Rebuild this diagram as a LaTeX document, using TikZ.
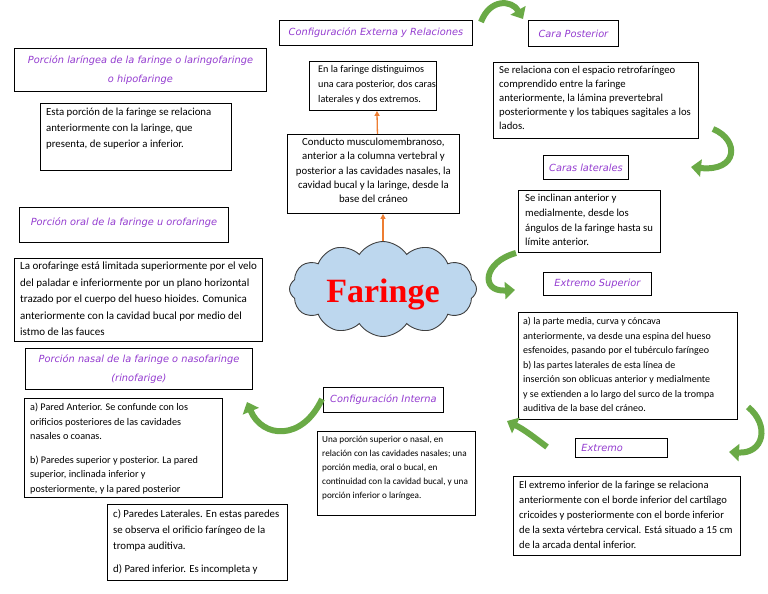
\documentclass[tikz,border=0pt]{standalone}
\usepackage{fontspec}
\setmainfont{Carlito}
\newfontfamily\tfont{DejaVu Sans}
\newfontfamily\bigfont{Liberation Serif}
\usetikzlibrary{shapes.symbols,arrows.meta}
\definecolor{ttl}{RGB}{148,60,208}
\definecolor{gr}{RGB}{106,170,70}
\definecolor{org}{RGB}{237,125,49}
\definecolor{cl}{RGB}{189,215,238}
\tikzset{
 bx/.style={draw=black, line width=0.9pt, inner sep=0pt, anchor=north west},
 tx/.style={inner sep=0pt, anchor=north west, align=left},
 tl/.style={draw=black, line width=0.9pt, anchor=north west, inner sep=0pt, font=\tfont\itshape\fontsize{9.8}{19.5}\selectfont, text=ttl, align=center},
 garr/.style={draw=gr, line width=6pt, -{Triangle[length=10pt,width=17pt]}},
 oarr/.style={draw=org, line width=1.3pt, -{Triangle[length=5pt,width=5pt]}},
}
\newcommand{\fs}[2]{\fontsize{#1}{#2}\selectfont}
\begin{document}
\begin{tikzpicture}[x=1pt,y=-1pt]
\useasboundingbox (0,0) rectangle (768,594);
\fill[white] (0,0) rectangle (768,594);

% left column
\node[tl, minimum width=252pt, minimum height=43pt] (t1) at (14,48) {Porción laríngea de la faringe o laringofaringe\\o hipofaringe};
\node[bx, minimum width=191pt, minimum height=67pt] (b1) at (40,103) {};
\node[tx, font=\fs{10.8}{16}] (b1t) at ([shift={(6,5)}]b1.north west) {Esta porción de la faringe se relaciona\\anteriormente con la laringe, que\\presenta, de superior a inferior.};

\node[tl, minimum width=209pt, minimum height=35pt] (t2) at (19,207) {\raisebox{6pt}{Porción oral de la faringe u orofaringe}};
\node[bx, minimum width=248pt, minimum height=83pt] (b2) at (14,258) {};
\node[tx, font=\fs{11}{16.4}] (b2t) at ([shift={(6,4)}]b2.north west) {La orofaringe está limitada superiormente por el velo\\del paladar e inferiormente por un plano horizontal\\trazado por el cuerpo del hueso hioides. Comunica\\anteriormente con la cavidad bucal por medio del\\istmo de las fauces};

\node[tl, minimum width=227pt, minimum height=41pt] (t3) at (25,348) {Porción nasal de la faringe o nasofaringe\\(rinofarige)};
\node[bx, minimum width=198pt, minimum height=99pt] (b3) at (24,398) {};
\node[tx, font=\fs{10.2}{14.5}] (b3t) at ([shift={(6,5)}]b3.north west) {a) Pared Anterior. Se confunde con los\\orificios posteriores de las cavidades\\nasales o coanas.\\[9pt]b) Paredes superior y posterior. La pared\\superior, inclinada inferior y\\posteriormente, y la pared posterior};
\node[bx, minimum width=180pt, minimum height=76pt] (b4) at (107,504) {};
\node[tx, font=\fs{10.8}{16}] (b4t) at ([shift={(6,5)}]b4.north west) {c) Paredes Laterales. En estas paredes\\se observa el orificio faríngeo de la\\trompa auditiva.\\[7pt]d) Pared inferior. Es incompleta y};

% center column
\node[tl, minimum width=193pt, minimum height=25pt] (t4) at (279,20) {Configuración Externa y Relaciones};
\node[bx, minimum width=127pt, minimum height=49pt] (b5) at (309,61) {};
\node[tx, font=\fs{10.2}{15}] (b5t) at ([shift={(9,4)}]b5.north west) {En la faringe distinguimos\\una cara posterior, dos caras\\laterales y dos extremos.};
\node[bx, minimum width=172pt, minimum height=79pt] (b6) at (287,134) {};
\node[tx, anchor=north, align=center, font=\fs{10.8}{14.3}] (b6t) at ([yshift=-4pt]b6.north) {Conducto musculomembranoso,\\anterior a la columna vertebral y\\posterior a las cavidades nasales, la\\cavidad bucal y la laringe, desde la\\base del cráneo};

\node[cloud, cloud puffs=12, cloud puff arc=115, aspect=2, draw=black!75, fill=cl, line width=0.9pt, minimum width=187pt, minimum height=95pt] (cld) at (383,289) {};
\node[anchor=base, inner sep=0pt, text=red, font=\bigfont\bfseries\fontsize{34}{34}\selectfont] (fa) at (383,302) {Faringe};

\node[tl, minimum width=120pt, minimum height=25pt] (t8) at (323,387) {Configuración Interna};
\node[bx, minimum width=158pt, minimum height=84pt] (b10) at (317,431) {};
\node[tx, font=\fs{9.2}{14}] (b10t) at ([shift={(5,5)}]b10.north west) {Una porción superior o nasal, en\\relación con las cavidades nasales; una\\porción media, oral o bucal, en\\continuidad con la cavidad bucal, y una\\porción inferior o laríngea.};

% right column
\node[tl, minimum width=90pt, minimum height=26pt] (t5) at (528,20) {Cara Posterior};
\node[bx, minimum width=205pt, minimum height=76pt] (b7) at (493,62) {};
\node[tx, font=\fs{10.7}{14}] (b7t) at ([shift={(6,4)}]b7.north west) {Se relaciona con el espacio retrofaríngeo\\comprendido entre la faringe\\anteriormente, la lámina prevertebral\\posteriormente y los tabiques sagitales a los\\lados.};
\node[tl, minimum width=85pt, minimum height=24pt] (t6) at (543,155) {Caras laterales};
\node[bx, minimum width=142pt, minimum height=62pt] (b8) at (518,190) {};
\node[tx, font=\fs{10.7}{14.7}] (b8t) at ([shift={(7,4)}]b8.north west) {Se inclinan anterior y\\medialmente, desde los\\ángulos de la faringe hasta su\\límite anterior.};
\node[tl, minimum width=108pt, minimum height=23pt] (t7) at (543,272) {Extremo Superior};
\node[bx, minimum width=219pt, minimum height=107pt] (b9) at (518,312) {};
\node[tx, font=\fs{10}{14.5}] (b9t) at ([shift={(5,5)}]b9.north west) {a) la parte media, curva y cóncava\\anteriormente, va desde una espina del hueso\\esfenoides, pasando por el tubérculo faríngeo\\b) las partes laterales de esta línea de\\inserción son oblicuas anterior y medialmente\\y se extienden a lo largo del surco de la trompa\\auditiva de la base del cráneo.};
\node[tl, text width=80pt, align=left, inner xsep=6pt, minimum height=19pt] (t9) at (575,438) {Extremo};
\node[bx, minimum width=227pt, minimum height=79pt] (b11) at (513,476) {};
\node[tx, font=\fs{10.6}{15}] (b11t) at ([shift={(6,5)}]b11.north west) {El extremo inferior de la faringe se relaciona\\anteriormente con el borde inferior del cartílago\\cricoides y posteriormente con el borde inferior\\de la sexta vértebra cervical. Está situado a 15 cm\\de la arcada dental inferior.};

% orange connectors
\draw[oarr] ([xshift=4pt]b6.north) -- ([xshift=4pt]b5.south);
\draw[oarr] (cld.north) -- (cld.north |- b6.south);

% green curved arrows
\coordinate (g1a) at (481,22); \coordinate (g1b) at (523,19);
\draw[garr] (g1a) .. controls (490,-2) and (512,0) .. (g1b);
\coordinate (g2a) at (713,129); \coordinate (g2b) at (691,167);
\draw[garr] (g2a) .. controls (740,140) and (738,172) .. (g2b);
\coordinate (g3a) at (516,253); \coordinate (g3b) at (515,290);
\draw[garr] (g3a) .. controls (483,262) and (480,292) .. (g3b);
\coordinate (g4a) at (547,447); \coordinate (g4b) at (507,421);
\draw[garr] (g4a) .. controls (535,438) and (525,430) .. (g4b);
\coordinate (g5a) at (748,407); \coordinate (g5b) at (729,452);
\draw[garr] (g5a) .. controls (770,425) and (764,454) .. (g5b);
\coordinate (g6a) at (322,399); \coordinate (g6b) at (247,402);
\draw[garr] (g6a) .. controls (302,442) and (262,438) .. (g6b);
\end{tikzpicture}
\end{document}
